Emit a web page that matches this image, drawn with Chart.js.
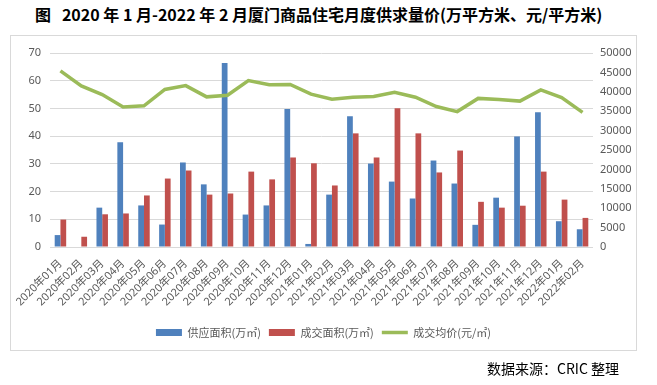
<!DOCTYPE html>
<html>
<head>
<meta charset="utf-8">
<script src="https://cdn.jsdelivr.net/npm/chart.js@4.4.1/dist/chart.umd.min.js"></script>
<style>
  html, body { margin: 0; padding: 0; background: #fff; }
  #wrap { position: relative; width: 657px; height: 385px; overflow: hidden; }
  #chart { position: absolute; left: 0; top: 0; }
  #title { position: absolute; left: 35px; top: 4px; white-space: pre; font-family: "Noto Sans CJK SC", sans-serif; font-weight: bold; font-size: 16px; color: #000; line-height: 20px; }
  #frame { position: absolute; left: 10px; top: 35px; width: 627px; height: 316px; box-sizing: border-box; border: 1px solid #d9d9d9; pointer-events: none; }
  #source { position: absolute; left: 487px; top: 359px; white-space: pre; font-family: "Noto Sans CJK SC", sans-serif; font-size: 14px; color: #000; line-height: 18px; }
</style>
</head>
<body>
<div id="wrap">
  <div id="title">图   2020 年 1 月-2022 年 2 月厦门商品住宅月度供求量价(万平方米、元/平方米)</div>
  <div id="frame"></div>
  <canvas id="chart" width="657" height="385"></canvas>
  <div id="source">数据来源：CRIC 整理</div>
</div>
<script>
const categories = ['2020年01月','2020年02月','2020年03月','2020年04月','2020年05月','2020年06月','2020年07月','2020年08月','2020年09月','2020年10月','2020年11月','2020年12月','2021年01月','2021年02月','2021年03月','2021年04月','2021年05月','2021年06月','2021年07月','2021年08月','2021年09月','2021年10月','2021年11月','2021年12月','2022年01月','2022年02月'];
const supplyArea = [4.3, 0, 14.2, 37.8, 15.0, 8.1, 30.5, 22.6, 66.4, 11.7, 15.0, 49.8, 1.1, 18.9, 47.2, 30.1, 23.6, 17.5, 31.2, 22.9, 8.0, 17.8, 39.9, 48.6, 9.3, 6.4];
const dealArea = [9.9, 3.7, 11.8, 12.1, 18.6, 24.7, 27.6, 18.9, 19.3, 27.2, 24.4, 32.3, 30.2, 22.2, 41.0, 32.3, 50.1, 41.0, 26.9, 34.8, 16.3, 14.2, 14.9, 27.2, 17.1, 10.5];
const dealPrice = [45400, 41500, 39300, 36100, 36400, 40600, 41600, 38700, 39100, 42900, 41800, 41900, 39400, 38100, 38600, 38800, 39900, 38600, 36200, 34900, 38300, 38000, 37600, 40500, 38500, 34700];
const seriesNames = ['供应面积(万㎡)', '成交面积(万㎡)', '成交均价(元/㎡)'];
const leftTicks = { min: 0, max: 70, step: 10 };
const rightTicks = { min: 0, max: 50000, step: 5000 };

const tickFont = { family: '"Noto Sans", "Noto Sans CJK SC", sans-serif', size: 11 };
const axisColor = '#595959';
const gridColor = '#d9d9d9';

new Chart(document.getElementById('chart'), {
  type: 'bar',
  data: {
    labels: categories,
    datasets: [
      { label: seriesNames[0], data: supplyArea, backgroundColor: '#4F81BD', yAxisID: 'y', order: 2, pointStyle: 'rect', categoryPercentage: 0.55, barPercentage: 1.0 },
      { label: seriesNames[1], data: dealArea, backgroundColor: '#C0504D', yAxisID: 'y', order: 2, pointStyle: 'rect', categoryPercentage: 0.55, barPercentage: 1.0 },
      { type: 'line', label: seriesNames[2], data: dealPrice, borderColor: '#9BBB59', backgroundColor: '#9BBB59', borderWidth: 3.5, pointRadius: 0, pointStyle: 'line', tension: 0, yAxisID: 'y1', order: 1 }
    ]
  },
  options: {
    responsive: false,
    animation: false,
    devicePixelRatio: 1,
    layout: { padding: { top: 53, left: 0, right: 10, bottom: 37 } },
    plugins: {
      title: { display: false },
      tooltip: { enabled: false },
      legend: {
        position: 'bottom',
        labels: {
          usePointStyle: true,
          pointStyleWidth: 26,
          boxHeight: 7,
          padding: 8,
          color: axisColor,
          font: { family: '"Noto Sans CJK SC", sans-serif', size: 11 },
          sort: (a, b) => a.datasetIndex - b.datasetIndex
        }
      }
    },
    scales: {
      x: {
        grid: { display: false },
        border: { display: false },
        ticks: { autoSkip: false, minRotation: 45, maxRotation: 45, color: axisColor, font: tickFont, padding: 2 },
        afterFit: (s) => { s.height = 72; }
      },
      y: {
        position: 'left',
        min: leftTicks.min, max: leftTicks.max,
        ticks: { stepSize: leftTicks.step, color: axisColor, font: tickFont, padding: 9 },
        grid: { color: gridColor, drawTicks: false, lineWidth: 1 },
        border: { display: false },
        afterFit: (s) => { s.width = 50; }
      },
      y1: {
        position: 'right',
        min: rightTicks.min, max: rightTicks.max,
        ticks: { stepSize: rightTicks.step, color: axisColor, font: tickFont, padding: 7, callback: (v) => String(v) },
        grid: { drawOnChartArea: false, drawTicks: false },
        border: { display: false },
        afterFit: (s) => { s.width = 54; }
      }
    }
  }
});
</script>
</body>
</html>
